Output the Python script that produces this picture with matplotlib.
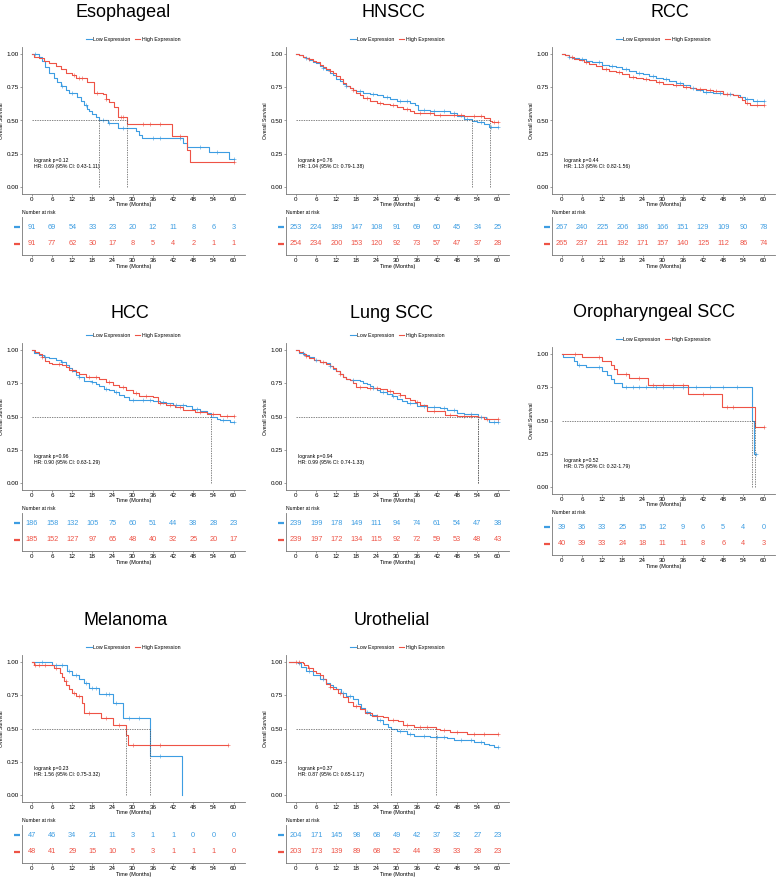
import numpy as np
import matplotlib.pyplot as plt

plt.rcParams['font.family'] = ['Liberation Sans', 'DejaVu Sans']

BLUE = '#3d9de2'
RED = '#ee5346'
GREY = '#555555'

times_risk = [0, 6, 12, 18, 24, 30, 36, 42, 48, 54, 60]

# ---- Esophageal
eso_low_t = [0, 2, 3, 4, 5, 6.5, 7.5, 8.5, 10, 11, 13.5, 14.5, 15.5, 16.5, 17, 18, 19, 20, 22.5, 25.5, 31, 31.8, 32.7, 45, 46.3, 52.6, 58.7, 60]
eso_low_s = [1.0, 0.98, 0.95, 0.90, 0.86, 0.82, 0.79, 0.76, 0.73, 0.71, 0.68, 0.65, 0.62, 0.59, 0.57, 0.55, 0.53, 0.50, 0.48, 0.44, 0.42, 0.39, 0.37, 0.33, 0.30, 0.26, 0.21, 0.21]
eso_high_t = [0, 0.5, 2, 3.5, 5, 7, 8.5, 10, 12, 13, 16.3, 18.5, 21, 22, 23, 24.5, 25.5, 28.2, 41.7, 46.2, 47, 60]
eso_high_s = [1.0, 0.98, 0.97, 0.95, 0.93, 0.91, 0.89, 0.86, 0.84, 0.82, 0.79, 0.71, 0.70, 0.66, 0.64, 0.60, 0.53, 0.47, 0.38, 0.28, 0.19, 0.19]
eso_low_cens = [1, 9, 12, 16, 21, 23, 27, 36, 38, 44, 50, 55, 60]
eso_high_cens = [12.5, 14, 15, 19.5, 22, 26.5, 27, 33, 35, 38, 44, 60]
eso_low_risk = [91, 69, 54, 33, 23, 20, 12, 11, 8, 6, 3]
eso_high_risk = [91, 77, 62, 30, 17, 8, 5, 4, 2, 1, 1]

# ---- HNSCC
hn_low_t = [0, 1, 2, 3, 4, 5, 6, 7, 8, 9, 10, 11, 12, 13, 14, 15, 16, 17, 18, 20, 22, 24, 26, 28, 30, 32, 34, 35.5, 36.3, 40, 43, 46, 48, 50, 52.3, 54, 56, 57.5, 60]
hn_low_s = [1.0, 0.99, 0.98, 0.97, 0.955, 0.94, 0.93, 0.91, 0.895, 0.88, 0.86, 0.84, 0.815, 0.795, 0.775, 0.76, 0.745, 0.73, 0.72, 0.71, 0.70, 0.69, 0.675, 0.665, 0.65, 0.645, 0.635, 0.62, 0.58, 0.575, 0.57, 0.555, 0.535, 0.51, 0.497, 0.485, 0.47, 0.45, 0.45]
hn_high_t = [0, 1, 2, 3, 4, 5, 6, 7, 8, 9, 10, 11, 12, 13, 14, 15, 16, 17, 18, 19, 20, 22, 24, 26, 28, 30, 32, 34, 35, 38, 41, 45, 50, 56, 57.8, 58.5, 60]
hn_high_s = [1.0, 0.99, 0.98, 0.97, 0.96, 0.95, 0.94, 0.92, 0.905, 0.89, 0.875, 0.86, 0.835, 0.81, 0.78, 0.76, 0.745, 0.73, 0.71, 0.69, 0.67, 0.65, 0.635, 0.625, 0.615, 0.60, 0.59, 0.575, 0.56, 0.555, 0.545, 0.54, 0.535, 0.52, 0.495, 0.485, 0.485]
hn_low_cens = [3, 8, 15, 19, 23, 27, 31, 33, 38, 41, 44, 47, 51, 55, 58, 60]
hn_high_cens = [4, 10, 17, 21, 25, 29, 33, 37, 40, 43, 47, 49, 53, 55, 59, 60]
hn_low_risk = [253, 224, 189, 147, 108, 91, 69, 60, 45, 34, 25]
hn_high_risk = [254, 234, 200, 153, 120, 92, 73, 57, 47, 37, 28]

# ---- RCC
rcc_low_t = [0, 1, 2, 3, 5, 7, 9, 12, 14, 16, 18, 20, 22, 24, 26, 28, 30, 32, 34, 36, 38, 40, 42, 45, 48, 51, 53, 54.5, 57, 60]
rcc_low_s = [1.0, 0.995, 0.98, 0.97, 0.96, 0.95, 0.94, 0.92, 0.91, 0.90, 0.885, 0.87, 0.86, 0.85, 0.835, 0.82, 0.81, 0.795, 0.78, 0.765, 0.745, 0.73, 0.715, 0.71, 0.70, 0.69, 0.675, 0.66, 0.65, 0.65]
rcc_high_t = [0, 1, 2, 3.5, 5, 6.5, 8, 10, 12, 14, 16, 18, 20, 22, 24, 26, 28, 30, 33, 36, 38, 40, 43, 45, 48, 51, 52.5, 53.5, 54.5, 56, 60]
rcc_high_s = [1.0, 0.99, 0.98, 0.965, 0.955, 0.94, 0.925, 0.91, 0.89, 0.875, 0.865, 0.85, 0.83, 0.82, 0.815, 0.805, 0.79, 0.775, 0.765, 0.75, 0.745, 0.74, 0.73, 0.72, 0.70, 0.695, 0.675, 0.655, 0.635, 0.615, 0.615]
rcc_low_cens = [2, 6, 11, 15, 19, 23, 27, 31, 35, 39, 43, 47, 50, 55, 58, 60]
rcc_high_cens = [3, 7, 13, 17, 21, 25, 29, 34, 37, 41, 44, 46, 49, 55, 58, 60]
rcc_low_risk = [267, 240, 225, 206, 186, 166, 151, 129, 109, 90, 78]
rcc_high_risk = [265, 237, 211, 192, 171, 157, 140, 125, 112, 86, 74]

# ---- HCC
hcc_low_t = [0, 0.5, 2, 3.5, 5, 7, 8.5, 10, 11, 12, 13, 14, 15.5, 17, 18, 19, 20, 21.5, 23, 24.5, 26, 27.5, 29, 36, 38, 40, 42, 46, 47.5, 50, 52, 53.4, 55, 56, 59, 60]
hcc_low_s = [1.0, 0.98, 0.965, 0.95, 0.94, 0.925, 0.91, 0.885, 0.865, 0.84, 0.815, 0.795, 0.77, 0.765, 0.76, 0.745, 0.73, 0.71, 0.70, 0.685, 0.665, 0.645, 0.625, 0.62, 0.61, 0.60, 0.59, 0.58, 0.555, 0.545, 0.53, 0.495, 0.48, 0.475, 0.46, 0.46]
hcc_high_t = [0, 1, 2, 3, 4, 5, 6, 9, 10, 11, 13, 14, 16, 20, 22, 24, 26, 28, 30, 32, 36, 37.5, 40, 42.5, 45, 48.5, 52, 56, 60]
hcc_high_s = [1.0, 0.985, 0.97, 0.95, 0.92, 0.905, 0.895, 0.885, 0.87, 0.85, 0.835, 0.82, 0.80, 0.78, 0.76, 0.74, 0.72, 0.70, 0.68, 0.655, 0.645, 0.605, 0.585, 0.57, 0.55, 0.535, 0.52, 0.505, 0.505]
hcc_low_cens = [4, 9, 14, 18, 22, 25, 30, 33, 35, 39, 43, 45, 49, 57, 60]
hcc_high_cens = [3, 8, 12, 17, 19, 23, 27, 31, 34, 38, 41, 44, 50, 54, 58, 60]
hcc_low_risk = [186, 158, 132, 105, 75, 60, 51, 44, 38, 28, 23]
hcc_high_risk = [185, 152, 127, 97, 65, 48, 40, 32, 25, 20, 17]

# ---- Lung SCC
lung_low_t = [0, 1, 2.5, 4, 5.5, 7, 9, 10, 11, 12, 13, 14, 15, 16, 19, 20, 21, 22, 23, 24, 25, 27, 28.5, 30, 31.5, 33, 36, 39, 43, 45, 48, 50, 54.1, 56.5, 57.5, 60]
lung_low_s = [1.0, 0.98, 0.96, 0.945, 0.925, 0.91, 0.90, 0.88, 0.86, 0.84, 0.82, 0.80, 0.785, 0.775, 0.77, 0.755, 0.745, 0.73, 0.715, 0.70, 0.685, 0.67, 0.655, 0.63, 0.615, 0.60, 0.58, 0.57, 0.565, 0.55, 0.525, 0.52, 0.495, 0.48, 0.46, 0.46]
lung_high_t = [0, 1, 2, 3, 4, 5.5, 7, 9, 10, 11, 12, 13, 14, 15, 16, 17, 18, 21, 25, 27, 29, 31, 32.5, 34, 35.5, 37, 39, 43, 44.5, 48, 54.3, 56, 60]
lung_high_s = [1.0, 0.985, 0.97, 0.955, 0.94, 0.925, 0.91, 0.895, 0.88, 0.865, 0.845, 0.82, 0.80, 0.78, 0.775, 0.75, 0.72, 0.715, 0.705, 0.69, 0.675, 0.66, 0.64, 0.625, 0.61, 0.585, 0.545, 0.54, 0.51, 0.505, 0.495, 0.48, 0.48]
lung_low_cens = [2, 6, 10, 17, 23, 26, 29, 34, 38, 41, 44, 47, 52, 55, 59, 60]
lung_high_cens = [3, 8, 13, 19, 22, 24, 28, 31, 36, 41, 46, 50, 52, 57, 60]
lung_low_risk = [239, 199, 178, 149, 111, 94, 74, 61, 54, 47, 38]
lung_high_risk = [239, 197, 172, 134, 115, 92, 72, 59, 53, 48, 43]

# ---- Oropharyngeal SCC
oro_low_t = [0, 0.2, 3.5, 4.5, 7, 12, 13.5, 14.5, 15.5, 16.5, 18, 56.6, 57.3, 57.8]
oro_low_s = [1.0, 0.975, 0.95, 0.92, 0.90, 0.87, 0.84, 0.81, 0.78, 0.78, 0.75, 0.50, 0.25, 0.25]
oro_high_t = [0, 6, 12, 14.5, 15.5, 16.5, 20, 25.5, 37.5, 47.5, 57.6, 60]
oro_high_s = [1.0, 0.975, 0.95, 0.92, 0.89, 0.85, 0.82, 0.77, 0.70, 0.60, 0.45, 0.45]
oro_low_cens = [5, 11, 19, 21, 23, 25, 28, 30, 33, 36, 40, 44, 48, 52, 57.8]
oro_high_cens = [4, 11, 19, 23, 27, 30, 33, 36, 42, 49, 51, 60]
oro_low_risk = [39, 36, 33, 25, 15, 12, 9, 6, 5, 4, 0]
oro_high_risk = [40, 39, 33, 24, 18, 11, 11, 8, 6, 4, 3]

# ---- Melanoma
mel_low_t = [0, 6, 10.5, 12, 14, 15.5, 17, 20, 24, 27, 35.2, 44.6]
mel_low_s = [1.0, 0.975, 0.93, 0.90, 0.87, 0.84, 0.805, 0.76, 0.69, 0.58, 0.29, 0.0]
mel_high_t = [0, 0.5, 6.5, 8.3, 8.8, 9.5, 10.2, 11, 12, 13, 15, 15.4, 20.5, 24, 28, 28.6, 58.5]
mel_high_s = [1.0, 0.975, 0.955, 0.92, 0.89, 0.86, 0.83, 0.80, 0.77, 0.745, 0.69, 0.62, 0.58, 0.525, 0.45, 0.375, 0.375]
mel_low_cens = [3, 7, 9, 11, 13, 16, 18, 19, 22, 23, 25, 29, 32, 38]
mel_high_cens = [1, 2, 4, 7, 10, 12.5, 14, 17, 22, 26, 30, 38, 58.5]
mel_low_risk = [47, 46, 34, 21, 11, 3, 1, 1, 0, 0, 0]
mel_high_risk = [48, 41, 29, 15, 10, 5, 3, 1, 1, 1, 0]

# ---- Urothelial
uro_low_t = [-2, 0.5, 1.5, 3, 5, 7, 9, 10, 11, 12, 13.5, 15, 17, 18.5, 19.5, 20.5, 22, 24, 26, 27.5, 28.2, 30, 33, 35, 40, 45, 47, 53, 56, 57.5, 59, 60]
uro_low_s = [1.0, 0.99, 0.965, 0.935, 0.905, 0.875, 0.845, 0.825, 0.81, 0.80, 0.77, 0.745, 0.72, 0.685, 0.655, 0.625, 0.60, 0.565, 0.535, 0.515, 0.495, 0.48, 0.46, 0.445, 0.435, 0.425, 0.41, 0.40, 0.385, 0.375, 0.36, 0.36]
uro_high_t = [-2, 2, 2.5, 3.5, 5, 6, 7, 8, 9, 10, 11, 12.5, 14, 15.5, 17, 19, 20.5, 22.5, 26, 27.5, 30.5, 32, 35, 41.7, 43, 46, 51, 60]
uro_high_s = [1.0, 0.99, 0.98, 0.955, 0.935, 0.92, 0.905, 0.875, 0.835, 0.81, 0.795, 0.77, 0.735, 0.70, 0.67, 0.645, 0.615, 0.595, 0.585, 0.565, 0.555, 0.53, 0.51, 0.495, 0.49, 0.47, 0.455, 0.455]
uro_low_cens = [1, 4, 8, 14, 16, 21, 25, 31, 34, 38, 42, 44, 49, 52, 55, 60]
uro_high_cens = [0, 1, 4, 10, 13, 18, 24, 29, 33, 37, 39, 44, 48, 53, 56, 60]
uro_low_risk = [204, 171, 145, 98, 68, 49, 42, 37, 32, 27, 23]
uro_high_risk = [203, 173, 139, 89, 68, 52, 44, 39, 33, 28, 23]

titles = ['Esophageal', 'HNSCC', 'RCC', 'HCC', 'Lung SCC', 'Oropharyngeal SCC', 'Melanoma', 'Urothelial']
pvals = ['0.12', '0.76', '0.44', '0.96', '0.94', '0.52', '0.23', '0.37']
hrs = ['0.69 (95% CI: 0.43-1.11)', '1.04 (95% CI: 0.79-1.38)', '1.13 (95% CI: 0.82-1.56)',
       '0.90 (95% CI: 0.63-1.29)', '0.99 (95% CI: 0.74-1.33)', '0.75 (95% CI: 0.32-1.79)',
       '1.56 (95% CI: 0.75-3.32)', '0.87 (95% CI: 0.65-1.17)']

curves = [
    (eso_low_t, eso_low_s, eso_low_cens, eso_high_t, eso_high_s, eso_high_cens, eso_low_risk, eso_high_risk),
    (hn_low_t, hn_low_s, hn_low_cens, hn_high_t, hn_high_s, hn_high_cens, hn_low_risk, hn_high_risk),
    (rcc_low_t, rcc_low_s, rcc_low_cens, rcc_high_t, rcc_high_s, rcc_high_cens, rcc_low_risk, rcc_high_risk),
    (hcc_low_t, hcc_low_s, hcc_low_cens, hcc_high_t, hcc_high_s, hcc_high_cens, hcc_low_risk, hcc_high_risk),
    (lung_low_t, lung_low_s, lung_low_cens, lung_high_t, lung_high_s, lung_high_cens, lung_low_risk, lung_high_risk),
    (oro_low_t, oro_low_s, oro_low_cens, oro_high_t, oro_high_s, oro_high_cens, oro_low_risk, oro_high_risk),
    (mel_low_t, mel_low_s, mel_low_cens, mel_high_t, mel_high_s, mel_high_cens, mel_low_risk, mel_high_risk),
    (uro_low_t, uro_low_s, uro_low_cens, uro_high_t, uro_high_s, uro_high_cens, uro_low_risk, uro_high_risk),
]

# layout in pixels: x of month 0, y of S=1.00, title centre x, title baseline y
W, H = 778, 880
x0s = [32, 296, 562, 32, 296, 562, 32, 296]
refs = [54, 54, 54, 350, 350, 354, 662, 662]
title_x = [123, 393, 670, 130, 391, 654, 126, 392]
title_y = [16.7, 16.7, 16.7, 318, 318, 317, 625, 625]
PXM = 201.5 / 60.0   # px per month
PXS = 133.0          # px per unit survival


def box(left, top, width, height):
    return [left / W, 1 - (top + height) / H, width / W, height / H]


def surv_at(t, s, x):
    idx = np.searchsorted(np.array(t), x, side='right') - 1
    return np.array(s)[np.clip(idx, 0, len(s) - 1)]


def median(t, s):
    for ti, si in zip(t, s):
        if si <= 0.5:
            return ti
    return None


def style(a):
    for sp in ['top', 'right']:
        a.spines[sp].set_visible(False)
    for sp in ['left', 'bottom']:
        a.spines[sp].set_color('#777777')
        a.spines[sp].set_linewidth(0.6)


fig = plt.figure(figsize=(W / 100, H / 100), dpi=100)

for i in range(8):
    lt, ls, lc, ht, hs, hc, lr, hr = curves[i]
    x0, ref = x0s[i], refs[i]
    left = x0 - 3 * PXM
    width = 66.3 * PXM

    fig.text(title_x[i] / W, 1 - title_y[i] / H, titles[i], fontsize=13, ha='center', va='baseline')

    ax = fig.add_axes(box(left, ref - 0.05 * PXS, width, 1.1 * PXS))
    ax.step(lt, ls, where='post', color=BLUE, lw=0.8, label='Low Expression')
    ax.step(ht, hs, where='post', color=RED, lw=0.8, label='High Expression')
    ax.plot(lc, surv_at(lt, ls, lc), ls='none', marker='+', ms=2.5, mew=0.4, color=BLUE)
    ax.plot(hc, surv_at(ht, hs, hc), ls='none', marker='+', ms=2.5, mew=0.4, color=RED)

    meds = [m for m in (median(lt, ls), median(ht, hs)) if m is not None]
    if meds:
        ax.plot([0, max(meds)], [0.5, 0.5], color=GREY, ls=(0, (2, 1.5)), lw=0.5)
        for m in meds:
            ax.plot([m, m], [0, 0.5], color=GREY, ls=(0, (2, 1.5)), lw=0.5)

    ax.text(0.5, 0.20, 'logrank p=' + pvals[i], fontsize=3.7, va='center')
    ax.text(0.5, 0.155, 'HR: ' + hrs[i], fontsize=3.7, va='center')

    ax.set_xlim(-3, 63.3)
    ax.set_ylim(-0.05, 1.05)
    ax.set_xticks(times_risk)
    ax.set_yticks([0, 0.25, 0.5, 0.75, 1.0])
    ax.set_yticklabels(['0.00', '0.25', '0.50', '0.75', '1.00'])
    ax.set_xlabel('Time (Months)', fontsize=4.0, labelpad=0.3)
    ax.set_ylabel('Overall Survival', fontsize=3.7, labelpad=1.5)
    ax.tick_params(labelsize=4.5, length=1.5, width=0.4, pad=0.8, color=GREY)
    style(ax)
    ax.legend(loc='center', bbox_to_anchor=(0.5, 1.057), ncol=2, frameon=False, fontsize=3.8,
              handlelength=1.0, handletextpad=0.3, columnspacing=0.8, borderpad=0)

    # risk table
    tb = fig.add_axes(box(left, ref + 163, width, 38))
    for xv, n in zip(times_risk, lr):
        tb.text(xv, 2, str(n), color=BLUE, fontsize=5.3, ha='center', va='center')
    for xv, n in zip(times_risk, hr):
        tb.text(xv, 1, str(n), color=RED, fontsize=5.3, ha='center', va='center')
    tb.set_xlim(-3, 63.3)
    tb.set_ylim(0.35, 2.59)
    tb.set_xticks(times_risk)
    tb.set_yticks([])
    # strata keys left of the table
    tb.plot([-0.02], [2], marker='_', ms=4, mew=1.6, color=BLUE, clip_on=False,
            transform=tb.get_yaxis_transform())
    tb.plot([-0.02], [1], marker='_', ms=4, mew=1.6, color=RED, clip_on=False,
            transform=tb.get_yaxis_transform())
    tb.tick_params(axis='x', labelsize=4.5, length=1.5, width=0.4, pad=0.8, color=GREY)
    tb.set_xlabel('Time (Months)', fontsize=4.0, labelpad=0.3)
    tb.set_title('Number at risk', fontsize=3.7, loc='left', pad=2.5)
    style(tb)

fig.savefig('out.png', dpi=100)
